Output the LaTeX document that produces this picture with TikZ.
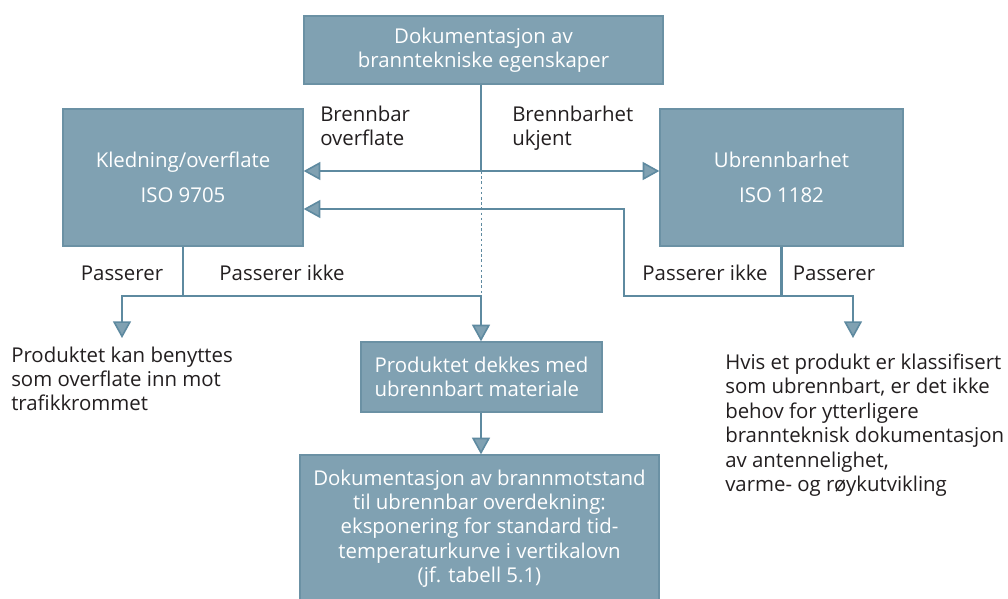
\documentclass[tikz,border=0pt]{standalone}
\usepackage{fontspec}
\setmainfont{Open Sans}
\usetikzlibrary{arrows.meta}
\definecolor{boxfill}{HTML}{80A1B2}
\definecolor{boxline}{HTML}{6B91A4}
\definecolor{connc}{HTML}{5E8AA0}
\definecolor{txt}{HTML}{231F20}
\newcommand\fsz{\fontsize{15.3}{18.3}\selectfont}
\begin{document}
\begin{tikzpicture}[x=0.75pt,y=-0.75pt,
  box/.style={draw=boxline, line width=1pt, fill=boxfill, text=white, inner sep=0pt, font=\fsz},
  conn/.style={draw=connc, line width=1.9pt},
  arr/.style={conn, -{Triangle[width=13.5pt,length=12.5pt,fill=boxfill,line width=1.2pt]}},
  lbl/.style={text=txt, inner sep=0pt, font=\fsz, align=left},
]
\useasboundingbox[fill=white] (0,0) rectangle (1008,599);
\clip (0,0) rectangle (1008,599);
% boxes
\node[box, minimum width=269.25pt, minimum height=51pt, align=center] (top) at (483.5,50) {Dokumentasjon av\\branntekniske egenskaper};
\node[box, minimum width=180pt, minimum height=102.75pt, align=center] (left) at (183,177.5) {Kledning/overflate\\[8pt]ISO 9705};
\node[box, minimum width=182.25pt, minimum height=102.75pt, align=center] (right) at (781.5,177.5) {Ubrennbarhet\\[8pt]ISO 1182};
\node[box, minimum width=180.75pt, minimum height=52.5pt, align=left] (mid) at (481.5,377) {Produktet dekkes med\\ubrennbart materiale};
\node[box, minimum width=269.25pt, minimum height=110.25pt, align=center] (bot) at (479.5,528.5) {Dokumentasjon av brannmotstand\\til ubrennbar overdekning:\\eksponering for standard tid-\\temperaturkurve i vertikalovn\\(jf. tabell 5.1)};
% coordinates
\coordinate (j1) at (481,171);
\coordinate (hy) at (0,296);
\coordinate (rp) at (624,209);
\coordinate (ltip) at (122,338);
\coordinate (rtip) at (853,338);
% connectors
\draw[conn] (top.south -| j1) -- (j1);
\draw[arr] (j1) -- (left.east |- j1);
\draw[arr] (j1) -- (right.west |- j1);
\draw[conn, dotted, line width=0.6pt] (j1) -- (j1 |- hy);
\draw[conn] (left.south) -- (left.south |- hy);
\draw[arr] (left.south |- hy) -| (ltip);
\draw[arr] (left.south |- hy) -- (j1 |- hy) -- (j1 |- mid.north);
\draw[conn] (right.south) -- (right.south |- hy);
\draw[arr] (right.south |- hy) -| (rtip);
\draw[arr] (right.south |- hy) -| (rp) -- (left.east |- rp);
\draw[arr] (j1 |- mid.south) -- (j1 |- bot.north);
% labels (base anchor = baseline of last line)
\node[lbl, anchor=base west] (bo) at (320,146) {Brennbar\\overflate};
\node[lbl, anchor=base west] (bu) at (512,146) {Brennbarhet\\ukjent};
\node[lbl, anchor=base] (p1) at (122,281) {Passerer};
\node[lbl, anchor=base] (p2) at (282,281) {Passerer ikke};
\node[lbl, anchor=base] (p3) at (705,281) {Passerer ikke};
\node[lbl, anchor=base] (p4) at (834,281) {Passerer};
\node[lbl, anchor=base west] (lt) at (11,411) {Produktet kan benyttes\\som overflate inn mot\\trafikkrommet};
\node[lbl, anchor=base west] (rt) at (725,491.5) {Hvis et produkt er klassifisert\\som ubrennbart, er det ikke\\behov for ytterligere\\brannteknisk dokumentasjon\\av antennelighet,\\varme- og røykutvikling};
\end{tikzpicture}
\end{document}
